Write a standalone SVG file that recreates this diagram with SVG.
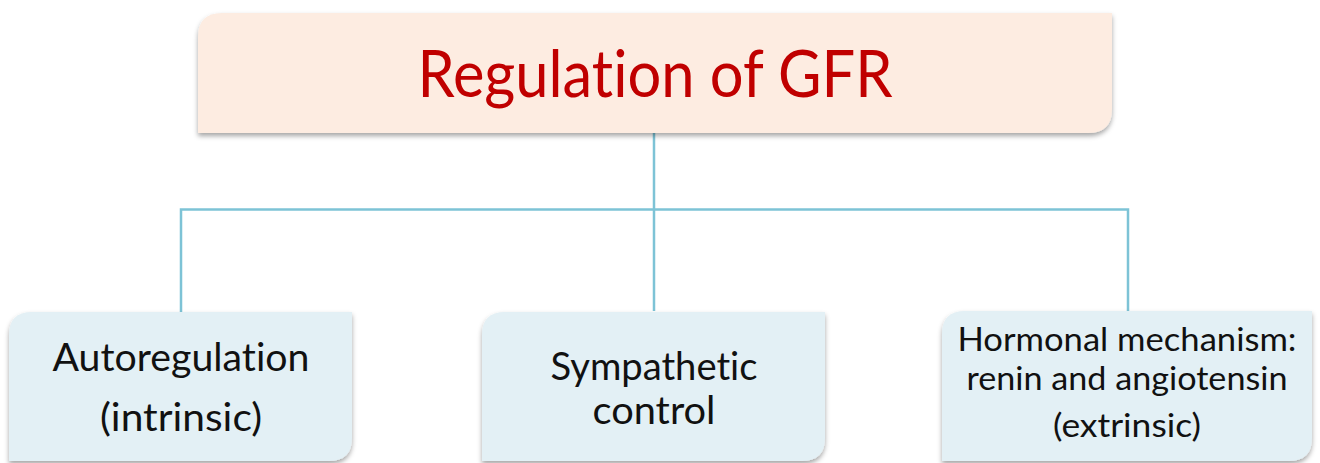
<svg xmlns="http://www.w3.org/2000/svg" width="1320" height="463" viewBox="0 0 1320 463">
  <style>
    .conn { fill: none; stroke: #7DC3D6; stroke-width: 2.5; }
    .top { fill: #FDECE1; }
    .leaf { fill: #E3F0F5; }
    text { font-family: Lato, "Open Sans", sans-serif; font-variant-ligatures: none; text-anchor: middle; }
    .title { font-size: 65px; fill: #C00000; }
    .lbl { font-size: 38px; fill: #111111; }
    .lbl-s { font-size: 32px; fill: #111111; }
  </style>
  <defs>
    <filter id="shadow" x="-5%" y="-10%" width="110%" height="130%">
      <feDropShadow dx="0" dy="3" stdDeviation="2.5" flood-color="#000000" flood-opacity="0.35"/>
    </filter>
  </defs>
  <rect width="1320" height="463" fill="#FFFFFF"/>

  <!-- connectors -->
  <g id="connectors">
    <path class="conn" d="M654 133 V311"/>
    <path class="conn" d="M181 312 V209.5 H1128 V312"/>
  </g>

  <!-- root node -->
  <g id="node-root">
    <path class="top" filter="url(#shadow)" d="M222 13 H1112 V109 Q1112 133 1088 133 H198 V37 Q198 13 222 13 Z"/>
    <text class="title" x="655" y="97" textLength="475" lengthAdjust="spacingAndGlyphs">Regulation of GFR</text>
  </g>

  <!-- child: autoregulation -->
  <g id="node-autoregulation">
    <path class="leaf" filter="url(#shadow)" d="M32 312 H352 V438 Q352 461 329 461 H9 V335 Q9 312 32 312 Z"/>
    <text class="lbl" x="181" y="371" textLength="257" lengthAdjust="spacingAndGlyphs">Autoregulation</text>
    <text class="lbl" x="181" y="431" textLength="162" lengthAdjust="spacingAndGlyphs">(intrinsic)</text>
  </g>

  <!-- child: sympathetic control -->
  <g id="node-sympathetic">
    <path class="leaf" filter="url(#shadow)" d="M505 312 H825 V438 Q825 461 802 461 H482 V335 Q482 312 505 312 Z"/>
    <text class="lbl" x="654" y="380" textLength="207" lengthAdjust="spacingAndGlyphs">Sympathetic</text>
    <text class="lbl" x="654" y="424" textLength="123" lengthAdjust="spacingAndGlyphs">control</text>
  </g>

  <!-- child: hormonal mechanism -->
  <g id="node-hormonal">
    <path class="leaf" filter="url(#shadow)" d="M965 311 H1312 V438 Q1312 461 1289 461 H942 V334 Q942 311 965 311 Z"/>
    <text class="lbl-s" x="1127" y="351" textLength="339" lengthAdjust="spacingAndGlyphs">Hormonal mechanism:</text>
    <text class="lbl-s" x="1127" y="390" textLength="321" lengthAdjust="spacingAndGlyphs">renin and angiotensin</text>
    <text class="lbl-s" x="1127" y="437" textLength="148" lengthAdjust="spacingAndGlyphs">(extrinsic)</text>
  </g>
</svg>
